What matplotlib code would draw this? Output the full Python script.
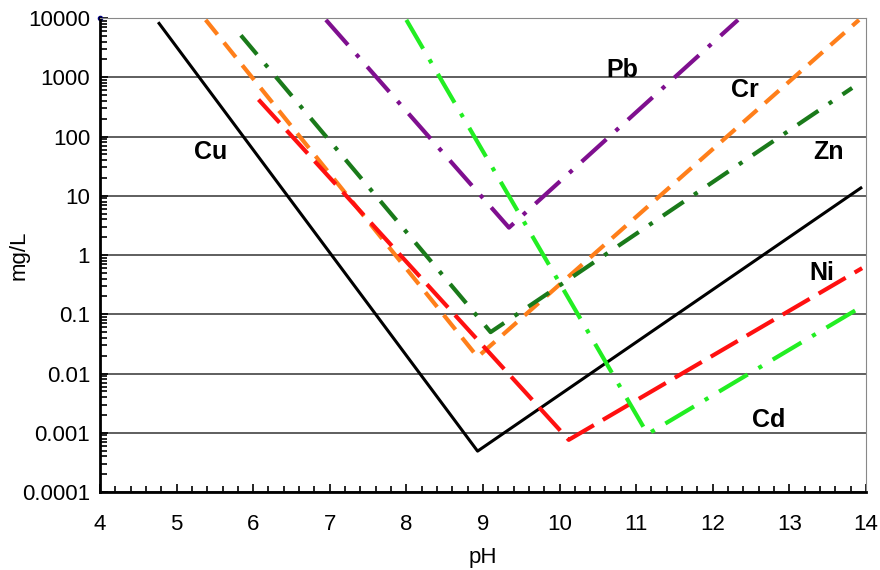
import matplotlib
matplotlib.use("Agg")
import matplotlib.pyplot as plt
from matplotlib.ticker import FixedLocator, NullFormatter, LogLocator

plt.rcParams['font.family'] = ['Liberation Sans', 'DejaVu Sans']

# V-shaped solubility curves: (pH, mg/L) at start, minimum, end
cu_ph = [4.76, 8.93, 13.95]
cu_mg = [8500, 0.00049, 14]
pb_ph = [6.95, 9.34, 12.33]
pb_mg = [9300, 2.9, 9300]
cr_ph = [5.38, 8.93, 13.91]
cr_mg = [9300, 0.019, 9300]
zn_ph = [5.84, 9.10, 13.82]
zn_mg = [5100, 0.05, 660]
ni_ph = [6.07, 10.12, 13.95]
ni_mg = [420, 0.00076, 0.6]
cd_ph = [8.0, 11.15, 13.88]
cd_mg = [9300, 0.00095, 0.12]

labels = ["Cu", "Pb", "Cr", "Zn", "Ni", "Cd"]
label_ph = [5.44, 10.82, 12.42, 13.51, 13.42, 12.73]
label_mg = [55, 1320, 600, 55, 0.5, 0.00166]

fig = plt.figure(figsize=(8.8, 5.7), dpi=100)
ax = fig.add_axes([0.1136, 0.1368, 0.8704, 0.8316])

ax.plot(cu_ph, cu_mg, color="black", lw=2.2, solid_capstyle="butt")
ax.plot(pb_ph, pb_mg, color="#7f0f8f", lw=3, dashes=(8, 3, 1, 3))
ax.plot(cr_ph, cr_mg, color="#ff7f1a", lw=3, dashes=(4.5, 2.5))
ax.plot(zn_ph, zn_mg, color="#1a7a1a", lw=3, dashes=(6, 3, 1, 3))
ax.plot(ni_ph, ni_mg, color="#ff1010", lw=3, dashes=(7.5, 2.5))
ax.plot(cd_ph, cd_mg, color="#22ee22", lw=3, dashes=(8, 3, 1, 3))
ax.plot([4], [10000], "o", color="navy", ms=3, clip_on=False)

for name, x, y in zip(labels, label_ph, label_mg):
    ax.text(x, y, name, fontsize=18, fontweight="bold", ha="center", va="center")

ax.set_yscale("log")
ax.set_xlim(4, 14)
ax.set_ylim(0.0001, 10000)
ax.set_yticks([0.0001, 0.001, 0.01, 0.1, 1, 10, 100, 1000, 10000])
ax.set_yticklabels(["0.0001", "0.001", "0.01", "0.1", "1", "10", "100", "1000", "10000"])
ax.yaxis.set_minor_locator(LogLocator(base=10, subs=range(2, 10)))
ax.yaxis.set_minor_formatter(NullFormatter())
ax.set_xticks(range(4, 15))
ax.xaxis.set_minor_locator(FixedLocator([4 + 0.2 * i for i in range(51)]))

ax.tick_params(which="both", direction="in", labelsize=16, width=1.2)
ax.tick_params(which="major", length=6, pad=7)
ax.tick_params(which="minor", length=4)
ax.tick_params(axis="y", which="minor", length=5)
ax.tick_params(axis="x", which="major", pad=16)

ax.grid(axis="y", which="major", color="#333333", lw=1.1)
ax.set_axisbelow(True)
ax.spines["left"].set_linewidth(2)
ax.spines["bottom"].set_linewidth(2)
ax.spines["top"].set_color("#888888")
ax.spines["right"].set_color("#888888")

ax.set_xlabel("pH", fontsize=16, va="center")
ax.xaxis.set_label_coords(0.5, -0.139)
ax.set_ylabel("mg/L", fontsize=16, va="center")
ax.yaxis.set_label_coords(-0.105, 0.5)

fig.savefig("out.png", dpi=100)
